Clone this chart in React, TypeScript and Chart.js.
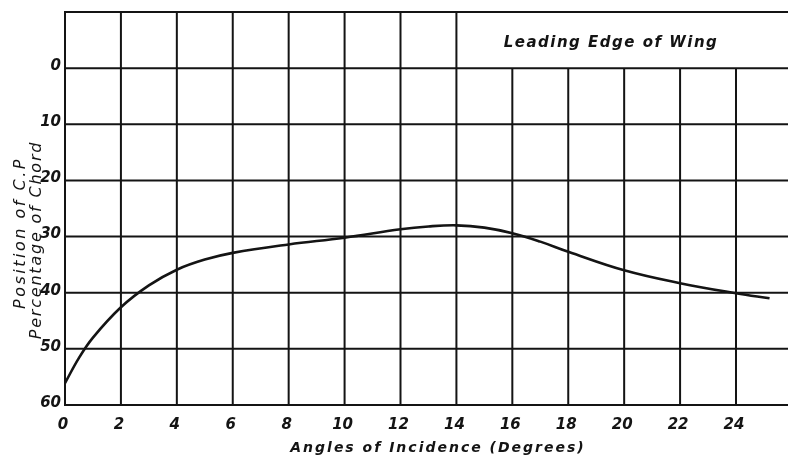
import React, { useEffect, useRef } from "react";
import { Chart, registerables } from "chart.js";

Chart.register(...registerables);

// Data
const ANGLES = [0, 0.5, 1, 2, 3, 4, 5, 6, 8, 10, 12, 13, 14, 15, 16, 17, 18, 20, 22, 24, 25.2];
const CP_POSITION = [56.1, 51.6, 48.0, 42.6, 38.7, 35.9, 34.1, 32.9, 31.4, 30.2, 28.7, 28.2, 28.0, 28.4, 29.4, 30.9, 32.7, 36.0, 38.3, 40.1, 41.0];

const X_TICKS = [0, 2, 4, 6, 8, 10, 12, 14, 16, 18, 20, 22, 24];
const Y_TICKS = [0, 10, 20, 30, 40, 50, 60];
const X_TITLE = "Angles of Incidence (Degrees)";
const Y_TITLE_1 = "Position of C.P";
const Y_TITLE_2 = "Percentage of Chord";
const NOTE = "Leading Edge of Wing";

const X_MIN = 0;
const X_MAX = 25.86;
const Y_MIN = -10;
const Y_MAX = 60;
const FULL_HEIGHT_LIMIT = 14; // verticals up to this angle run through the top band

const INK = "#141414";
const FONT_FAMILY = '"DejaVu Sans", "Liberation Sans", sans-serif';

const gridPlugin = {
  id: "paperGrid",
  beforeDatasetsDraw(chart: any) {
    const { ctx, scales } = chart;
    const xs = scales.x;
    const ys = scales.y;
    const left = xs.getPixelForValue(X_MIN);
    const right = xs.getPixelForValue(X_MAX);
    const top = ys.getPixelForValue(Y_MIN);
    const bottom = ys.getPixelForValue(Y_MAX);
    const zeroY = ys.getPixelForValue(0);
    ctx.save();
    ctx.strokeStyle = INK;
    ctx.lineWidth = 2;
    ctx.lineCap = "butt";
    ctx.beginPath();
    ctx.moveTo(left, top);
    ctx.lineTo(right, top);
    ctx.moveTo(left, top - 1);
    ctx.lineTo(left, bottom + 1);
    ctx.moveTo(left, bottom);
    ctx.lineTo(right, bottom);
    ctx.stroke();
    ctx.beginPath();
    Y_TICKS.forEach((v) => {
      const y = ys.getPixelForValue(v);
      ctx.moveTo(left, y);
      ctx.lineTo(right, y);
    });
    ctx.stroke();
    ctx.beginPath();
    X_TICKS.forEach((v) => {
      if (v === X_MIN) return;
      const x = xs.getPixelForValue(v);
      ctx.moveTo(x, v <= FULL_HEIGHT_LIMIT ? top : zeroY);
      ctx.lineTo(x, bottom);
    });
    ctx.stroke();
    ctx.restore();
  },
  afterDraw(chart: any) {
    const { ctx, scales } = chart;
    const xs = scales.x;
    const ys = scales.y;
    ctx.save();
    ctx.fillStyle = INK;
    ctx.font = `italic bold 15px ${FONT_FAMILY}`;
    (ctx as any).letterSpacing = "0px";
    ctx.textAlign = "right";
    ctx.textBaseline = "middle";
    Y_TICKS.forEach((v) => {
      ctx.fillText(String(v), 61, ys.getPixelForValue(v) - 2);
    });
    ctx.textAlign = "center";
    X_TICKS.forEach((v) => {
      ctx.fillText(String(v), xs.getPixelForValue(v) - 2, 425);
    });
    ctx.font = `italic bold 14px ${FONT_FAMILY}`;
    (ctx as any).letterSpacing = "2px";
    ctx.textAlign = "center";
    ctx.fillText(X_TITLE, 438, 448);
    ctx.font = `italic bold 15px ${FONT_FAMILY}`;
    (ctx as any).letterSpacing = "1.5px";
    ctx.textAlign = "center";
    ctx.fillText(NOTE, 611, 43);
    ctx.font = `italic 16px ${FONT_FAMILY}`;
    (ctx as any).letterSpacing = "2.5px";
    ctx.save();
    ctx.translate(21, 233);
    ctx.rotate(-Math.PI / 2);
    ctx.textAlign = "center";
    ctx.fillText(Y_TITLE_1, 0, 0);
    ctx.restore();
    (ctx as any).letterSpacing = "1.8px";
    ctx.save();
    ctx.translate(37, 240);
    ctx.rotate(-Math.PI / 2);
    ctx.textAlign = "center";
    ctx.fillText(Y_TITLE_2, 0, 0);
    ctx.restore();
    ctx.restore();
  },
};

export default function App() {
  const canvasRef = useRef<HTMLCanvasElement | null>(null);

  useEffect(() => {
    if (!canvasRef.current) return;
    const chart = new Chart(canvasRef.current, {
      type: "line",
      data: {
        datasets: [
          {
            data: ANGLES.map((a, i) => ({ x: a, y: CP_POSITION[i] })),
            borderColor: INK,
            borderWidth: 2.6,
            pointRadius: 0,
            fill: false,
            tension: 0.4,
          },
        ],
      },
      options: {
        responsive: false,
        animation: false,
        devicePixelRatio: 1,
        layout: { padding: { left: 65, top: 12, right: 0, bottom: 55 } },
        plugins: { legend: { display: false }, tooltip: { enabled: false } },
        scales: {
          x: { type: "linear", min: X_MIN, max: X_MAX, display: false },
          y: { type: "linear", min: Y_MIN, max: Y_MAX, reverse: true, display: false },
        },
      },
      plugins: [gridPlugin],
    } as any);
    return () => chart.destroy();
  }, []);

  return (
    <div style={{ position: "fixed", left: 0, top: 0, width: 788, height: 460, background: "#fff" }}>
      <canvas ref={canvasRef} width={788} height={460} />
    </div>
  );
}
